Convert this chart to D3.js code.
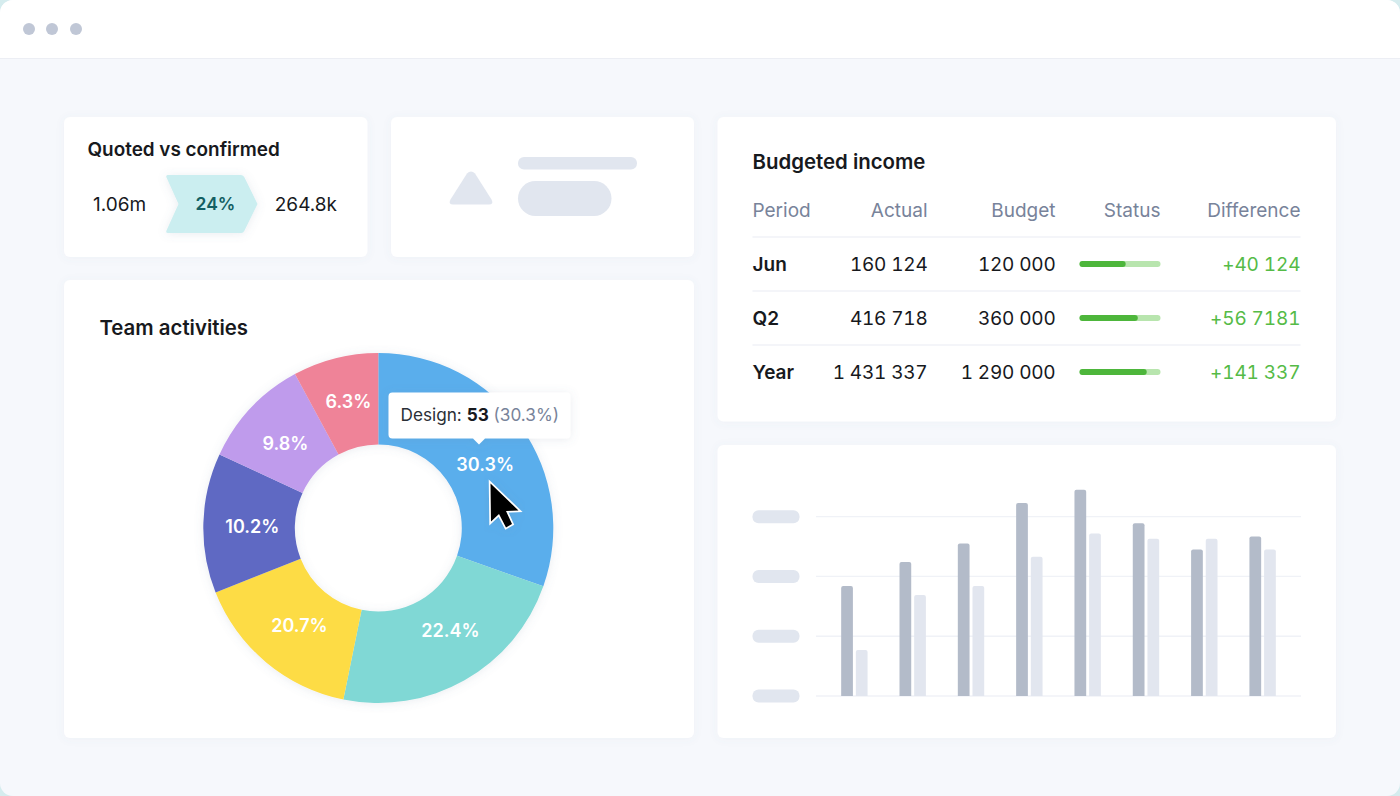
<!DOCTYPE html>
<html>
<head>
<meta charset="utf-8">
<script src="https://cdn.jsdelivr.net/npm/d3@7"></script>
<style>
  html, body { margin: 0; padding: 0; background: #d5ecee; overflow: hidden; }
  svg { display: block; font-family: Inter, "Noto Sans", sans-serif; }
  .figures { font-variant-numeric: tabular-nums; font-feature-settings: "tnum"; }
</style>
</head>
<body>
<svg id="CHART_SVG" width="1400" height="796"></svg>
<script>
const activityNames = ["Design", "Research", "Planning", "Review", "Support", "Admin"];
const activityShares = [30.4, 22.8, 15.8, 12.9, 10.2, 7.9];
const activityLabels = ["30.3%", "22.4%", "20.7%", "10.2%", "9.8%", "6.3%"];
const activityColors = ["#5aaeec", "#80d8d5", "#fddc45", "#5f69c3", "#bf9bec", "#ef8398"];

// table
const tableColumns = ["Period", "Actual", "Budget", "Status", "Difference"];
const periods = ["Jun", "Q2", "Year"];
const actuals = ["160 124", "416 718", "1 431 337"];
const budgets = ["120 000", "360 000", "1 290 000"];
const statusShares = [0.57, 0.72, 0.83];
const differences = ["+40 124", "+56 7181", "+141 337"];

// grouped bars (no labels in the picture, units are arbitrary)
const barGroups = d3.range(8);
const darkBars = [184, 224, 255, 323, 345, 289, 245, 267];
const lightBars = [77, 169, 184, 233, 272, 263, 263, 245];
const barTicks = [0, 100, 200, 300];

const INK = "#17191d";
const GREY_TEXT = "#78839a";
const PLACEHOLDER = "#e1e6ef";
const RULE = "#f0f2f7";

const svg = d3.select("#CHART_SVG");

const defs = svg.append("defs");
function addShadow(id, blur, alpha) {
  defs.append("filter")
    .attr("id", id)
    .attr("x", "-20%").attr("y", "-20%")
    .attr("width", "140%").attr("height", "140%")
    .append("feDropShadow")
    .attr("dx", 0).attr("dy", 1)
    .attr("stdDeviation", blur)
    .attr("flood-color", "#6b7a99")
    .attr("flood-opacity", alpha);
}
addShadow("cardShadow", 4, 0.06);
addShadow("softShadow", 5, 0.14);

function addText(parent, x, y, str, size, weight, fill, anchor) {
  return parent.append("text")
    .attr("x", x).attr("y", y)
    .attr("font-size", size)
    .attr("font-weight", weight)
    .attr("fill", fill)
    .attr("text-anchor", anchor || "start")
    .text(str);
}

// window
svg.append("rect")
  .attr("width", 1400).attr("height", 796)
  .attr("rx", 13).attr("fill", "#f6f8fc");
svg.append("path")
  .attr("d", "M0,58V13A13,13 0 0 1 13,0H1387A13,13 0 0 1 1400,13V58Z")
  .attr("fill", "#ffffff");
svg.append("line")
  .attr("x1", 0).attr("x2", 1400)
  .attr("y1", 58.5).attr("y2", 58.5)
  .attr("stroke", "#eceef4");
svg.selectAll(".dot").data([29, 52, 76]).enter().append("circle")
  .attr("cx", (d) => d).attr("cy", 29).attr("r", 6).attr("fill", "#c0c7d6");

// cards
const cards = [
  { x: 64, y: 117, w: 303.5, h: 140 },
  { x: 391, y: 117, w: 303, h: 140 },
  { x: 717.5, y: 117, w: 618.5, h: 304.5 },
  { x: 64, y: 280, w: 630, h: 458 },
  { x: 717.5, y: 445, w: 618.5, h: 293 },
];
svg.selectAll(".card").data(cards).enter().append("rect")
  .attr("x", (d) => d.x).attr("y", (d) => d.y)
  .attr("width", (d) => d.w).attr("height", (d) => d.h)
  .attr("rx", 6).attr("fill", "#ffffff")
  .attr("filter", "url(#cardShadow)");

// quoted vs confirmed
const quoted = svg.append("g");
addText(quoted, 87.5, 156, "Quoted vs confirmed", 18.9, 600, INK);
addText(quoted, 93, 211, "1.06m", 19, 400, INK);
quoted.append("path")
  .attr("d", "M168,175H241Q243.5,175 244.5,177.5L257.5,204L244.5,230.5Q243.5,233 241,233H168Q165.5,233 166.5,230.5L178.5,204L166.5,177.5Q165.5,175 168,175Z")
  .attr("fill", "#cbeef0")
  .attr("filter", "url(#softShadow)");
addText(quoted, 215.5, 210, "24%", 17.5, 600, "#135f63", "middle");
addText(quoted, 337, 211, "264.8k", 19, 400, INK, "end");

// placeholder card
const placeholder = svg.append("g").attr("fill", PLACEHOLDER);
placeholder.append("path")
  .attr("d", "M467,173.5Q471,169.5 475,173.5L491.5,199.5Q494,204.5 489,204.5H453Q448,204.5 450.5,199.5Z");
placeholder.append("rect").attr("x", 518).attr("y", 157).attr("width", 119).attr("height", 12.5).attr("rx", 6);
placeholder.append("rect").attr("x", 518).attr("y", 181).attr("width", 93.5).attr("height", 35).attr("rx", 17.5);

// budgeted income table
const table = svg.append("g");
addText(table, 752.5, 169, "Budgeted income", 20.4, 600, INK);

const columnEdges = [752.5, 927.5, 1055.5, 1160.5, 1300.5];
const columnAnchors = ["start", "end", "end", "end", "end"];
tableColumns.forEach((name, i) => {
  addText(table, columnEdges[i], 217, name, 19, 400, GREY_TEXT, columnAnchors[i]);
});

const rowY = d3.scaleBand().domain(periods).range([237, 399]);
const statusX = d3.scaleLinear().domain([0, 1]).range([1079.5, 1160.5]);

periods.forEach((period, i) => {
  const top = rowY(period);
  const base = top + 34;
  table.append("line")
    .attr("x1", 752.5).attr("x2", 1300.5)
    .attr("y1", top).attr("y2", top)
    .attr("stroke", RULE).attr("stroke-width", 1.3);
  addText(table, columnEdges[0], base, period, 19, 600, INK);
  addText(table, columnEdges[1], base, actuals[i], 19, 400, INK, "end")
    .attr("class", "figures").attr("letter-spacing", -0.2);
  addText(table, columnEdges[2], base, budgets[i], 19, 400, INK, "end")
    .attr("class", "figures").attr("letter-spacing", -0.2);
  table.append("rect")
    .attr("x", statusX(0)).attr("y", top + 24)
    .attr("width", statusX(1) - statusX(0)).attr("height", 6)
    .attr("rx", 3).attr("fill", "#b8e5ae");
  table.append("rect")
    .attr("x", statusX(0)).attr("y", top + 24)
    .attr("width", statusX(statusShares[i]) - statusX(0)).attr("height", 6)
    .attr("rx", 3).attr("fill", "#4db63b");
  addText(table, columnEdges[4], base, differences[i], 19, 400, "#55bb47", "end")
    .attr("class", "figures").attr("letter-spacing", -0.1);
});

// team activities donut
const donut = svg.append("g");
addText(donut, 99.5, 335, "Team activities", 20.4, 600, INK);

const pie = d3.pie().sort(null);
const arcs = pie(activityShares);
const arc = d3.arc().innerRadius(83.5).outerRadius(175);
const labelArc = d3.arc().innerRadius(126).outerRadius(126);

const ring = donut.append("g")
  .attr("transform", "translate(378.3,528)")
  .attr("filter", "url(#softShadow)");
ring.selectAll("path").data(arcs).enter().append("path")
  .attr("d", arc)
  .attr("fill", (d, i) => activityColors[i]);

const labelNudge = [[4, 9], [10, -7], [2, 1], [0, 2], [-1, 2], [1, -4]];
donut.append("g")
  .attr("transform", "translate(378.3,528)")
  .selectAll("text").data(arcs).enter().append("text")
  .attr("transform", (d, i) => {
    const c = labelArc.centroid(d);
    return "translate(" + (c[0] + labelNudge[i][0]) + "," + (c[1] + labelNudge[i][1]) + ")";
  })
  .attr("dy", "0.36em")
  .attr("text-anchor", "middle")
  .attr("font-size", 18)
  .attr("font-weight", 600)
  .attr("fill", "#ffffff")
  .text((d, i) => activityLabels[i]);

// tooltip
const tooltip = svg.append("g");
tooltip.append("path")
  .attr("d", "M392.5,392.5H566.5A4,4 0 0 1 570.5,396.5V434.5A4,4 0 0 1 566.5,438.5H485L479,444.5L473,438.5H392.5A4,4 0 0 1 388.5,434.5V396.5A4,4 0 0 1 392.5,392.5Z")
  .attr("fill", "#ffffff")
  .attr("filter", "url(#softShadow)");
const tipText = tooltip.append("text")
  .attr("x", 400.5).attr("y", 421)
  .attr("font-size", 17.2)
  .attr("fill", "#2b2f36");
tipText.append("tspan").text(activityNames[0] + ": ");
tipText.append("tspan").attr("font-weight", 700).attr("fill", INK).text("53");
tipText.append("tspan").attr("fill", GREY_TEXT).text(" (" + activityLabels[0] + ")");

// cursor
svg.append("path")
  .attr("d", "M490.5,483.5L491,521.5L499,514L506,527.5L512,524L506,511L518.5,510.5Z")
  .attr("fill", "#000000")
  .attr("stroke", "#ffffff")
  .attr("stroke-width", 3.4)
  .attr("stroke-linejoin", "miter")
  .attr("paint-order", "stroke")
  .attr("filter", "url(#softShadow)");

// grouped bars
const bars = svg.append("g");
const yBar = d3.scaleLinear().domain([0, 300]).range([696, 516.7]);
const xGroup = d3.scaleBand().domain(barGroups).range([816, 1301]).paddingOuter(0.158);
const xSeries = d3.scaleBand().domain([0, 1]).range([0, 26.4]).paddingInner(0.2);

barTicks.forEach((t) => {
  bars.append("line")
    .attr("x1", 816).attr("x2", 1301)
    .attr("y1", yBar(t)).attr("y2", yBar(t))
    .attr("stroke", RULE).attr("stroke-width", 1.3);
  bars.append("rect")
    .attr("x", 752.5).attr("y", yBar(t) - 6.5)
    .attr("width", 47).attr("height", 13)
    .attr("rx", 6).attr("fill", PLACEHOLDER);
});

function barPath(x, top, w) {
  const r = 2;
  return "M" + x + "," + yBar(0) + "V" + (top + r) + "Q" + x + "," + top + " " + (x + r) + "," + top +
    "H" + (x + w - r) + "Q" + (x + w) + "," + top + " " + (x + w) + "," + (top + r) + "V" + yBar(0) + "Z";
}
function drawSeries(values, seriesIndex, color) {
  bars.selectAll(".series" + seriesIndex).data(values).enter().append("path")
    .attr("class", "series" + seriesIndex)
    .attr("d", (d, i) => {
      const groupLeft = xGroup(i) + (xGroup.bandwidth() - 26.4) / 2;
      return barPath(groupLeft + xSeries(seriesIndex), yBar(d), xSeries.bandwidth());
    })
    .attr("fill", color);
}
drawSeries(darkBars, 0, "#b3bbc9");
drawSeries(lightBars, 1, "#e2e6ef");
</script>
</body>
</html>
